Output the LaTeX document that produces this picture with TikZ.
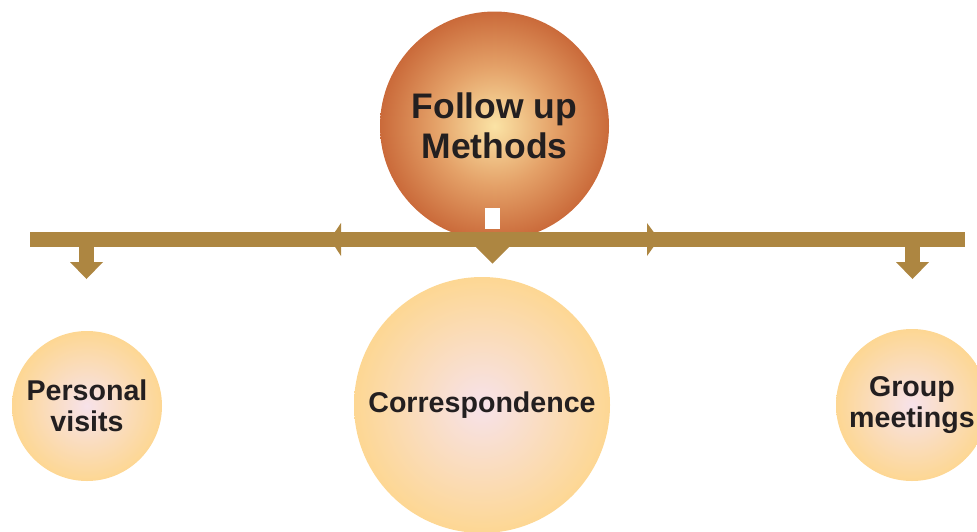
\documentclass[tikz,border=0pt]{standalone}
\usepackage{fontspec}
\setmainfont{Liberation Sans}

% palette
\definecolor{hotin}{HTML}{FBE3A5}
\definecolor{hotmid}{HTML}{E4A168}
\definecolor{hotout}{HTML}{CA6A3A}
\definecolor{softin}{HTML}{F7E2EA}
\definecolor{softout}{HTML}{FDD793}
\definecolor{barcol}{HTML}{AD8641}
\definecolor{inkcol}{HTML}{231F20}

% radial fills for the balls (the ball's radius maps to 25bp)
\pgfdeclareradialshading{hotball}{\pgfpoint{0bp}{0bp}}{%
  color(0bp)=(hotin); color(13bp)=(hotmid); color(25bp)=(hotout); color(50bp)=(hotout)}
\pgfdeclareradialshading{softball}{\pgfpoint{0bp}{0bp}}{%
  color(0bp)=(softin); color(25bp)=(softout); color(50bp)=(softout)}

\tikzset{
  mainball/.style={circle, inner sep=0pt, minimum size=229pt, shading=hotball,
    text=inkcol, align=center, font=\bfseries\fontsize{35.5}{40}\selectfont},
  subball/.style={circle, inner sep=0pt, shading=softball,
    text=inkcol, align=center, font=\bfseries\fontsize{28.6}{31.5}\selectfont},
  barfill/.style={fill=barcol, draw=none},
}

\begin{document}
\begin{tikzpicture}[x=1pt, y=-1pt]
  \useasboundingbox (0,0) rectangle (977,531);

  % central topic
  \node[mainball] (topic) at (494.5,126) {Follow up\\Methods};
  \fill[white] (485,208) rectangle (500,229);

  % horizontal bar with its arrowheads
  \path[barfill] (30,232) rectangle (965,246.5);
  \path[barfill] (341,223) -- (330,239.2) -- (341,256) -- cycle;
  \path[barfill] (647,223) -- (659,239.2) -- (647,256) -- cycle;

  % downward pointers
  \path[barfill] (476,247) -- (509,247) -- (492.5,263.5) -- cycle;
  \path[barfill] (79,246) rectangle (94,262);
  \path[barfill] (70,262) -- (103,262) -- (86.5,279) -- cycle;
  \path[barfill] (905,246) rectangle (920,262);
  \path[barfill] (896,262) -- (929,262) -- (912.5,279) -- cycle;

  % sub-topics
  \node[subball, minimum size=150pt] (visits) at (87,406) {Personal\\visits};
  \node[subball, minimum size=256pt] (corr) at (482,405) {Correspondence};
  \node[subball, minimum size=152pt] (meet) at (912,405) {Group\\meetings};
\end{tikzpicture}
\end{document}
